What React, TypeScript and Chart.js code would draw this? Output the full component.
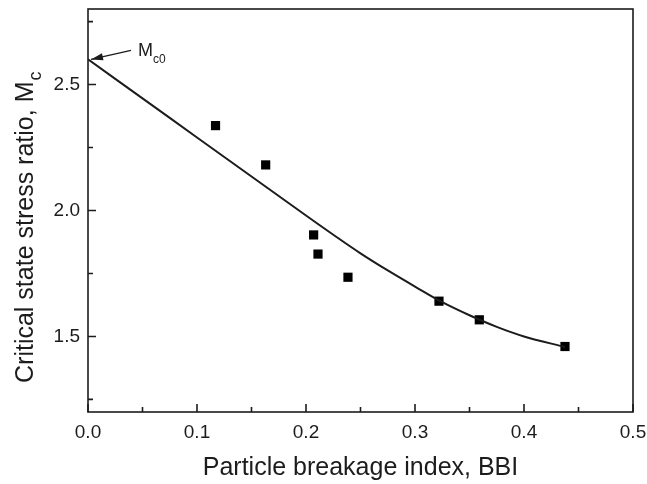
import React, { useEffect, useRef } from "react";
import { Chart, registerables } from "chart.js";

Chart.register(...registerables);

// ---- data ----
const bbiData = [0.117, 0.163, 0.207, 0.211, 0.2385, 0.322, 0.359, 0.4376];
const mcData = [2.337, 2.181, 1.903, 1.827, 1.735, 1.64, 1.566, 1.46];

const curveBBI = [0, 0.05, 0.1, 0.15, 0.2, 0.25, 0.275, 0.3, 0.325, 0.35, 0.375, 0.4, 0.4376];
const curveMc = [2.6, 2.445, 2.29, 2.135, 1.98, 1.83, 1.762, 1.698, 1.636, 1.584, 1.538, 1.5, 1.458];

const xMajorTicks = [0, 0.1, 0.2, 0.3, 0.4, 0.5];
const xMinorTicks = [0.05, 0.15, 0.25, 0.35, 0.45];
const yMajorTicks = [1.5, 2.0, 2.5];
const yMinorTicks = [1.25, 1.75, 2.25, 2.75];

const xTitle = "Particle breakage index, BBI";
const yTitleMain = "Critical state stress ratio, M";
const yTitleSub = "c";
const annoMain = "M";
const annoSub = "c0";
const mc0 = 2.6;

const FONT = "'Liberation Sans', Arial, sans-serif";
const INK = "#1c1c1c";

const decor = {
  id: "decor",
  afterDraw(chart: any) {
    const { ctx, chartArea, scales } = chart;
    const { left, right, top, bottom } = chartArea;
    const x = scales.x;
    const y = scales.y;
    ctx.save();
    ctx.strokeStyle = INK;
    ctx.lineWidth = 1.6;
    ctx.strokeRect(left, top, right - left, bottom - top);
    ctx.beginPath();
    xMajorTicks.forEach((v) => {
      const px = x.getPixelForValue(v);
      ctx.moveTo(px, bottom);
      ctx.lineTo(px, bottom - 8);
    });
    xMinorTicks.forEach((v) => {
      const px = x.getPixelForValue(v);
      ctx.moveTo(px, bottom);
      ctx.lineTo(px, bottom - 5);
    });
    yMajorTicks.forEach((v) => {
      const py = y.getPixelForValue(v);
      ctx.moveTo(left, py);
      ctx.lineTo(left + 8, py);
    });
    yMinorTicks.forEach((v) => {
      const py = y.getPixelForValue(v);
      ctx.moveTo(left, py);
      ctx.lineTo(left + 5, py);
    });
    ctx.stroke();

    ctx.fillStyle = INK;
    // x title
    ctx.font = `25px ${FONT}`;
    ctx.textAlign = "center";
    ctx.textBaseline = "alphabetic";
    ctx.fillText(xTitle, (left + right) / 2, 475);

    // y title
    ctx.save();
    ctx.translate(33, 383);
    ctx.rotate(-Math.PI / 2);
    ctx.textAlign = "left";
    ctx.font = `25px ${FONT}`;
    ctx.fillText(yTitleMain, 0, 0);
    const w = ctx.measureText(yTitleMain).width;
    ctx.font = `18px ${FONT}`;
    ctx.fillText(yTitleSub, w + 1, 8);
    ctx.restore();

    // annotation arrow
    const tx = x.getPixelForValue(0) + 3;
    const ty = y.getPixelForValue(mc0);
    const sx = tx + 40;
    const sy = ty - 9;
    const ang = Math.atan2(ty - sy, tx - sx);
    ctx.lineWidth = 1.3;
    ctx.beginPath();
    ctx.moveTo(sx, sy);
    ctx.lineTo(tx, ty);
    ctx.stroke();
    ctx.beginPath();
    ctx.moveTo(tx, ty);
    ctx.lineTo(tx - 12 * Math.cos(ang) + 3.5 * Math.sin(ang), ty - 12 * Math.sin(ang) - 3.5 * Math.cos(ang));
    ctx.lineTo(tx - 12 * Math.cos(ang) - 3.5 * Math.sin(ang), ty - 12 * Math.sin(ang) + 3.5 * Math.cos(ang));
    ctx.closePath();
    ctx.fill();

    ctx.textAlign = "left";
    ctx.font = `18px ${FONT}`;
    ctx.fillText(annoMain, sx + 7, sy + 6);
    const mw = ctx.measureText(annoMain).width;
    ctx.font = `12px ${FONT}`;
    ctx.fillText(annoSub, sx + 7 + mw, sy + 13);
    ctx.restore();
  },
};

export default function App() {
  const ref = useRef<HTMLCanvasElement | null>(null);
  useEffect(() => {
    if (!ref.current) return;
    const chart = new Chart(ref.current, {
      type: "scatter",
      data: {
        datasets: [
          {
            type: "line",
            data: curveBBI.map((v, i) => ({ x: v, y: curveMc[i] })),
            borderColor: INK,
            borderWidth: 2,
            pointRadius: 0,
            cubicInterpolationMode: "monotone",
            fill: false,
          } as any,
          {
            type: "scatter",
            data: bbiData.map((v, i) => ({ x: v, y: mcData[i] })),
            backgroundColor: "#000",
            borderColor: "#000",
            pointStyle: "rect",
            pointRadius: 6.5,
            borderWidth: 0,
          },
        ],
      },
      options: {
        responsive: false,
        animation: false,
        layout: { padding: { top: 9, right: 14, left: 0, bottom: 0 } },
        plugins: { legend: { display: false }, tooltip: { enabled: false } },
        scales: {
          x: {
            type: "linear",
            min: 0,
            max: 0.5,
            grid: { display: false, drawTicks: false },
            border: { display: false },
            afterFit: (s: any) => {
              s.height = 72;
              s.paddingLeft = 0;
              s.paddingRight = 0;
            },
            afterBuildTicks: (s: any) => {
              s.ticks = xMajorTicks.map((v) => ({ value: v }));
            },
            ticks: {
              padding: 9,
              color: INK,
              font: { family: FONT, size: 19 },
              callback: (v: any) => Number(v).toFixed(1),
              maxRotation: 0,
            },
          },
          y: {
            type: "linear",
            min: 1.2,
            max: 2.8,
            grid: { display: false, drawTicks: false },
            border: { display: false },
            afterFit: (s: any) => {
              s.width = 88;
              s.paddingTop = 0;
              s.paddingBottom = 0;
            },
            afterBuildTicks: (s: any) => {
              s.ticks = yMajorTicks.map((v) => ({ value: v }));
            },
            ticks: {
              padding: 8,
              color: INK,
              font: { family: FONT, size: 19 },
              callback: (v: any) => Number(v).toFixed(1),
            },
          },
        },
      },
      plugins: [decor],
    });
    return () => chart.destroy();
  }, []);
  return (
    <div style={{ position: "absolute", left: 0, top: 0, width: 647, height: 484 }}>
      <canvas ref={ref} width={647} height={484} style={{ display: "block" }} />
    </div>
  );
}
